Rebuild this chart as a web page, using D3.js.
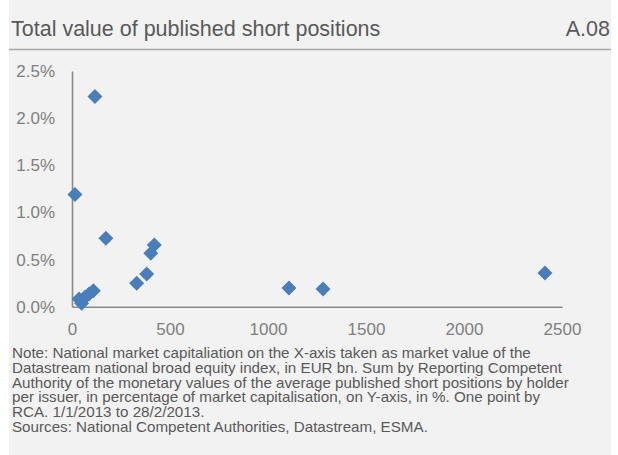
<!DOCTYPE html>
<html>
<head>
<meta charset="utf-8">
<script src="https://cdn.jsdelivr.net/npm/d3@7"></script>
<style>
body { margin: 0; background: #fff; }
svg { display: block; font-family: "Liberation Sans", Arial, sans-serif; }
</style>
</head>
<body>
<script>
// market cap (EUR bn) vs short positions (% of cap), one point per RCA
var capX = [117, 15, 173, 420, 402, 381, 330, 1107, 1281, 2413, 109, 87, 66, 36, 49];
var shortY = [2.23, 1.19, 0.726, 0.655, 0.567, 0.347, 0.248, 0.199, 0.188, 0.358, 0.17, 0.135, 0.10, 0.082, 0.036];
var xTicks = [0, 500, 1000, 1500, 2000, 2500];
var yTicks = [0, 0.5, 1.0, 1.5, 2.0, 2.5];
var noteLines = [
  "Note: National market capitaliation on the X-axis taken as market value of the",
  "Datastream national broad equity index, in EUR bn. Sum by Reporting Competent",
  "Authority of the monetary values of the average published short positions by holder",
  "per issuer, in percentage of market capitalisation, on Y-axis, in %. One point by",
  "RCA. 1/1/2013 to 28/2/2013.",
  "Sources: National Competent Authorities, Datastream, ESMA."
];

var W = 618, H = 455;
var svg = d3.select("body").append("svg").attr("width", W).attr("height", H);

// panel
svg.append("rect").attr("x", 9).attr("y", 0).attr("width", 602).attr("height", H).attr("fill", "#f2f2f2");

// title bar
svg.append("text").attr("x", 11).attr("y", 36).attr("font-size", 21.5).attr("fill", "#595959")
   .text("Total value of published short positions");
svg.append("text").attr("x", 610).attr("y", 36).attr("font-size", 21.5).attr("fill", "#595959")
   .attr("text-anchor", "end").text("A.08");
svg.append("line").attr("x1", 9).attr("x2", 611).attr("y1", 49.5).attr("y2", 49.5)
   .style("stroke", "#a6a6a6").style("stroke-width", 1.5);

var x = d3.scaleLinear().domain([0, 2500]).range([72, 562]);
var y = d3.scaleLinear().domain([0, 2.5]).range([306.7, 71]);

var xAxis = svg.append("g").attr("transform", "translate(0," + y(0) + ")")
   .call(d3.axisBottom(x).tickValues(xTicks).tickSize(0).tickPadding(16).tickFormat(d3.format("d")));
var yAxis = svg.append("g").attr("transform", "translate(" + x(0) + ",0)")
   .call(d3.axisLeft(y).tickValues(yTicks).tickSize(0).tickPadding(17).tickFormat(function(d) { return d.toFixed(1) + "%"; }));

[xAxis, yAxis].forEach(function(g) {
  g.select(".domain").style("stroke", "#8a8a8a").style("stroke-width", 1.6);
  g.selectAll("text").attr("font-size", 17).attr("fill", "#7f7f7f")
   .style("font-family", "'Liberation Sans', Arial, sans-serif");
});

var pts = capX.map(function(v, i) { return {x: v, y: shortY[i]}; });

svg.selectAll("rect.pt")
   .data(pts)
   .enter()
   .append("rect")
   .attr("class", "pt")
   .attr("x", -5.3).attr("y", -5.3).attr("width", 10.6).attr("height", 10.6)
   .attr("transform", function(d) { return "translate(" + x(d.x) + "," + y(d.y) + ") rotate(45)"; })
   .attr("fill", "#4a7ebb");

// note block: 14px glyphs, stretched a little wider like the original font
var note = svg.append("g").attr("transform", "translate(12,0) scale(1.085,1)");
note.selectAll("text.note")
   .data(noteLines)
   .enter()
   .append("text")
   .attr("class", "note")
   .attr("x", 0)
   .attr("y", function(d, i) { return 358 + i * 14.8; })
   .attr("font-size", 14)
   .attr("fill", "#595959")
   .text(function(d) { return d; });
</script>
</body>
</html>
